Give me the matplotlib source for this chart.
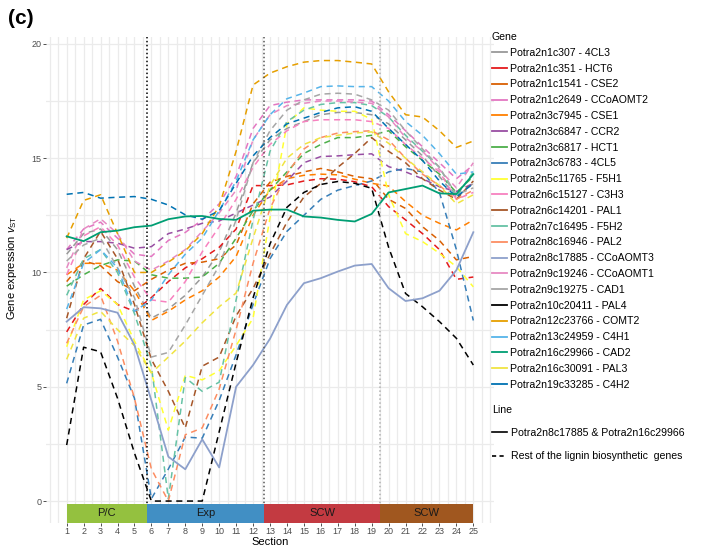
import numpy as np
import matplotlib
matplotlib.use("Agg")
import matplotlib.pyplot as plt
from matplotlib.lines import Line2D

plt.rcParams['font.family'] = ['Liberation Sans', 'DejaVu Sans']
plt.rcParams['mathtext.fontset'] = 'custom'
plt.rcParams['mathtext.rm'] = 'Liberation Sans'
plt.rcParams['mathtext.it'] = 'Liberation Sans:italic'

# ---- data ----
sections = np.arange(1, 26)

genes = [
    "Potra2n1c307 - 4CL3", "Potra2n1c351 - HCT6", "Potra2n1c1541 - CSE2",
    "Potra2n1c2649 - CCoAOMT2", "Potra2n3c7945 - CSE1", "Potra2n3c6847 - CCR2",
    "Potra2n3c6817 - HCT1", "Potra2n3c6783 - 4CL5", "Potra2n5c11765 - F5H1",
    "Potra2n6c15127 - C3H3", "Potra2n6c14201 - PAL1", "Potra2n7c16495 - F5H2",
    "Potra2n8c16946 - PAL2", "Potra2n8c17885 - CCoAOMT3", "Potra2n9c19246 - CCoAOMT1",
    "Potra2n9c19275 - CAD1", "Potra2n10c20411 - PAL4", "Potra2n12c23766 - COMT2",
    "Potra2n13c24959 - C4H1", "Potra2n16c29966 - CAD2", "Potra2n16c30091 - PAL3",
    "Potra2n19c33285 - C4H2",
]

gene_colors = [
    "#999999", "#e41a1c", "#d95f02", "#e377c2", "#ff7f00", "#984ea3",
    "#4daf4a", "#377eb8", "#ffff33", "#f781bf", "#a65628", "#66c2a5",
    "#fc8d62", "#8da0cb", "#e78ac3", "#a6a6a6", "#000000", "#e69f00",
    "#56b4e9", "#009e73", "#f0e442", "#0072b2",
]

# genes drawn with a solid line
solid_genes = ["Potra2n8c17885 - CCoAOMT3", "Potra2n16c29966 - CAD2"]

expr_4CL3 = [10.8, 11.7, 11.9, 11.0, 9.4, 8.0, 8.4, 9.0, 9.8, 10.9, 12.6, 14.8, 15.8,
             16.3, 16.6, 16.9, 17.0, 17.0, 16.9, 16.5, 15.8, 15.1, 14.2, 13.3, 13.9]
expr_HCT6 = [7.4, 8.6, 9.3, 8.6, 8.3, 8.9, 9.6, 10.2, 10.6, 11.1, 11.9, 13.8, 13.8,
             13.83, 14.0, 14.1, 14.08, 13.97, 13.75, 12.88, 12.3, 11.7, 11.0, 9.7, 9.8]
expr_CSE2 = [9.6, 10.5, 10.3, 9.6, 9.2, 9.7, 10.1, 10.4, 10.45, 10.6, 11.2, 13.0, 13.95,
             14.2, 14.4, 14.55, 14.4, 14.2, 14.1, 13.2, 12.8, 12.0, 11.4, 10.55, 10.7]
expr_CCoAOMT2 = [11.0, 11.9, 12.2, 11.5, 10.8, 10.7, 11.4, 11.75, 12.3, 13.0, 14.2, 16.3, 17.3,
                 17.45, 17.55, 17.55, 17.55, 17.55, 17.5, 16.9, 16.2, 15.5, 14.8, 14.1, 14.7]
expr_CSE1 = [9.9, 10.4, 10.4, 10.1, 9.2, 7.9, 8.3, 8.8, 9.2, 9.8, 10.7, 12.5, 13.6,
             14.1, 14.25, 14.3, 14.27, 14.08, 13.9, 13.78, 13.1, 12.5, 12.15, 11.86, 12.3]
expr_CCR2 = [11.0, 11.35, 11.35, 11.28, 11.06, 11.13, 11.7, 11.9, 12.15, 12.25, 12.6, 12.95, 13.3,
             14.0, 14.8, 15.07, 15.1, 15.15, 15.19, 14.63, 14.4, 14.1, 13.75, 13.54, 13.9]
expr_HCT1 = [9.4, 9.9, 10.3, 10.55, 10.5, 9.9, 9.75, 9.75, 9.8, 10.4, 11.5, 12.7, 13.6,
             14.4, 15.2, 15.6, 15.9, 15.9, 16.0, 16.2, 15.5, 14.9, 14.3, 13.5, 14.2]
expr_4CL5 = [5.15, 7.7, 7.95, 6.3, 4.5, 0.1, 1.4, 2.8, 2.75, 4.4, 6.4, 8.6, 10.6,
             11.8, 12.5, 13.2, 13.6, 13.8, 14.0, 14.4, 14.55, 14.4, 13.5, 11.0, 7.9]
expr_F5H1 = [6.75, 8.8, 9.2, 8.6, 7.0, 5.6, 3.1, 5.5, 5.3, 5.7, 6.8, 8.0, 12.4,
             16.5, 17.2, 17.1, 17.05, 17.05, 16.7, 13.4, 11.7, 11.35, 10.84, 10.25, 9.37]
expr_C3H3 = [9.9, 11.6, 12.0, 11.2, 9.8, 8.8, 8.7, 9.6, 10.9, 12.0, 13.2, 14.6, 15.6,
             16.2, 16.6, 16.68, 16.68, 16.68, 16.6, 16.3, 15.6, 15.0, 14.4, 13.2, 13.5]
expr_PAL1 = [8.0, 10.6, 11.8, 10.6, 8.6, 6.2, 4.8, 3.2, 5.9, 6.3, 8.1, 9.3, 10.8,
             12.2, 13.3, 13.9, 14.6, 15.2, 15.9, 15.3, 14.8, 14.1, 13.6, 13.2, 14.0]
expr_F5H2 = [9.0, 10.6, 11.0, 10.0, 8.2, 5.9, 0.1, 5.4, 4.8, 5.2, 8.8, 12.3, 15.3,
             16.6, 17.1, 17.35, 17.43, 17.43, 17.3, 16.8, 16.0, 15.3, 14.6, 13.3, 14.4]
expr_PAL2 = [6.9, 8.5, 9.0, 7.0, 4.5, 1.4, 0.0, 2.9, 3.2, 4.9, 7.5, 10.4, 12.8,
             14.3, 15.4, 15.9, 16.1, 16.16, 16.2, 15.8, 15.0, 14.3, 13.8, 13.2, 13.6]
expr_CCoAOMT3 = [7.85, 8.48, 8.43, 8.24, 6.83, 4.4, 1.94, 1.39, 2.7, 1.47, 5.0, 5.95, 7.1,
                 8.58, 9.53, 9.75, 10.04, 10.3, 10.37, 9.31, 8.75, 8.87, 9.2, 10.1, 11.76]
expr_CCoAOMT1 = [10.2, 11.9, 12.35, 11.7, 10.5, 10.1, 10.5, 11.0, 11.8, 12.6, 13.6, 15.8, 16.9,
                 17.3, 17.4, 17.5, 17.5, 17.45, 17.4, 16.8, 15.9, 15.3, 14.5, 13.7, 14.8]
expr_CAD1 = [10.5, 11.2, 11.5, 10.2, 8.9, 6.3, 6.5, 7.7, 9.0, 10.3, 12.3, 14.8, 16.2,
             17.1, 17.55, 17.8, 17.84, 17.8, 17.55, 17.1, 16.2, 15.4, 14.6, 13.4, 13.7]
expr_PAL4 = [2.45, 6.73, 6.53, 4.5, 2.1, 0.0, 0.0, 0.0, 0.0, 3.03, 6.05, 8.89, 11.25,
             12.85, 13.5, 13.85, 13.98, 13.9, 13.68, 11.1, 9.08, 8.5, 7.85, 7.12, 5.95]
expr_COMT2 = [11.5, 13.15, 13.4, 11.7, 10.0, 10.0, 10.45, 10.95, 11.7, 12.9, 15.3, 18.2, 18.72,
              19.0, 19.2, 19.27, 19.27, 19.2, 19.12, 17.9, 16.9, 16.8, 16.2, 15.47, 15.75]
expr_C4H1 = [8.4, 10.4, 11.0, 10.2, 8.3, 8.8, 9.9, 10.8, 11.5, 12.7, 14.0, 15.8, 16.9,
             17.6, 17.85, 18.13, 18.16, 18.13, 18.13, 17.5, 16.6, 16.0, 15.2, 14.3, 14.4]
expr_CAD2 = [11.58, 11.37, 11.76, 11.83, 11.98, 12.05, 12.33, 12.45, 12.47, 12.34, 12.3, 12.7, 12.75,
             12.75, 12.45, 12.4, 12.3, 12.23, 12.56, 13.5, 13.65, 13.8, 13.46, 13.43, 14.3]
expr_PAL3 = [6.2, 8.0, 8.3, 7.5, 6.8, 5.6, 6.3, 7.0, 7.8, 8.5, 9.1, 11.5, 13.8,
             15.0, 15.6, 15.9, 16.0, 16.1, 16.15, 15.65, 15.0, 14.4, 13.8, 13.0, 13.4]
expr_C4H2 = [13.42, 13.5, 13.25, 13.29, 13.32, 13.2, 12.95, 12.52, 12.33, 12.7, 13.9, 15.1, 15.9,
             16.5, 16.75, 17.0, 17.2, 17.25, 17.05, 16.3, 15.6, 14.9, 14.0, 13.3, 13.9]

expression = [
    expr_4CL3, expr_HCT6, expr_CSE2, expr_CCoAOMT2, expr_CSE1, expr_CCR2,
    expr_HCT1, expr_4CL5, expr_F5H1, expr_C3H3, expr_PAL1, expr_F5H2,
    expr_PAL2, expr_CCoAOMT3, expr_CCoAOMT1, expr_CAD1, expr_PAL4, expr_COMT2,
    expr_C4H1, expr_CAD2, expr_PAL3, expr_C4H2,
]

# stage bar along the bottom
stage_names = ["P/C", "Exp", "SCW", "SCW"]
stage_start = [1.0, 5.72, 12.65, 19.5]
stage_end = [5.72, 12.65, 19.5, 25.0]
stage_colors = ["#94c13f", "#418fc4", "#c33a41", "#a0571f"]
boundary_colors = ["black", "#555555", "#b0b0b0"]

# ---- figure ----
fig = plt.figure(figsize=(7.03, 5.5), dpi=100)
ax = fig.add_axes([46 / 703, 27 / 550, 448 / 703, 486 / 550])

dash = (0, (4, 3))
for name, vals, col in zip(genes, expression, gene_colors):
    if name in solid_genes:
        ax.plot(sections, vals, color=col, lw=1.3, zorder=3)
    else:
        ax.plot(sections, vals, color=col, lw=1.1, ls=dash, zorder=2)

# stage boundaries
for xb, col in zip(stage_start[1:], boundary_colors):
    ax.axvline(xb, color=col, lw=1.1, ls=(0, (1, 1.6)), zorder=4)

# stage rectangles
for nm, s0, s1, col in zip(stage_names, stage_start, stage_end, stage_colors):
    ax.bar((s0 + s1) / 2, 0.84, width=s1 - s0, bottom=-0.96, color=col,
           edgecolor='none', zorder=5)
    ax.text((s0 + s1) / 2, -0.54, nm, ha='center', va='center',
            fontsize=8, color='#1a1a1a', zorder=6)

ax.set_xlim(-0.22, 26.22)
ax.set_ylim(-0.96, 20.3)
ax.set_xticks(sections)
ax.set_xticks(np.arange(0, 26.5, 0.5), minor=True)
ax.set_yticks([0, 5, 10, 15, 20])
ax.set_yticks([2.5, 7.5, 12.5, 17.5], minor=True)
ax.grid(which='both', color='#ebebeb', lw=0.9, zorder=0)
ax.set_axisbelow(True)
for sp in ax.spines.values():
    sp.set_visible(False)
ax.tick_params(which='major', length=2.2, width=0.6, color='#333333',
               labelsize=6.5, labelcolor='#4d4d4d', pad=1.0)
ax.tick_params(which='minor', length=0)
ax.set_xlabel('Section', fontsize=8, labelpad=0.5)

fig.text(12 / 703, 1 - 268 / 550, r'Gene expression $\mathit{v}_{\mathrm{ST}}$',
         rotation=90, ha='center', va='center', fontsize=8)
fig.text(8 / 703, 1 - 19 / 550, '(c)', fontsize=15, fontweight='bold',
         ha='left', va='center')

# legends
gene_handles = [Line2D([], [], color=c, lw=1.3) for c in gene_colors]
fig.legend(gene_handles, genes, title='Gene', loc='upper left',
           bbox_to_anchor=(492 / 703, 1 - 32 / 550), frameon=False,
           fontsize=7.6, title_fontsize=7.6, alignment='left',
           handlelength=1.4, handletextpad=0.3, labelspacing=0.55,
           borderpad=0, borderaxespad=0)

line_handles = [Line2D([], [], color='black', lw=1.2),
                Line2D([], [], color='black', lw=1.2, ls=(0, (2.5, 2)))]
line_labels = ['Potra2n8c17885 & Potra2n16c29966',
               'Rest of the lignin biosynthetic  genes']
fig.legend(line_handles, line_labels, title='Line', loc='upper left',
           bbox_to_anchor=(492 / 703, 1 - 405 / 550), frameon=False,
           fontsize=7.6, title_fontsize=7.6, alignment='left',
           handlelength=1.4, handletextpad=0.4, labelspacing=1.25,
           borderpad=0, borderaxespad=0)

fig.savefig('out.png', dpi=100)
